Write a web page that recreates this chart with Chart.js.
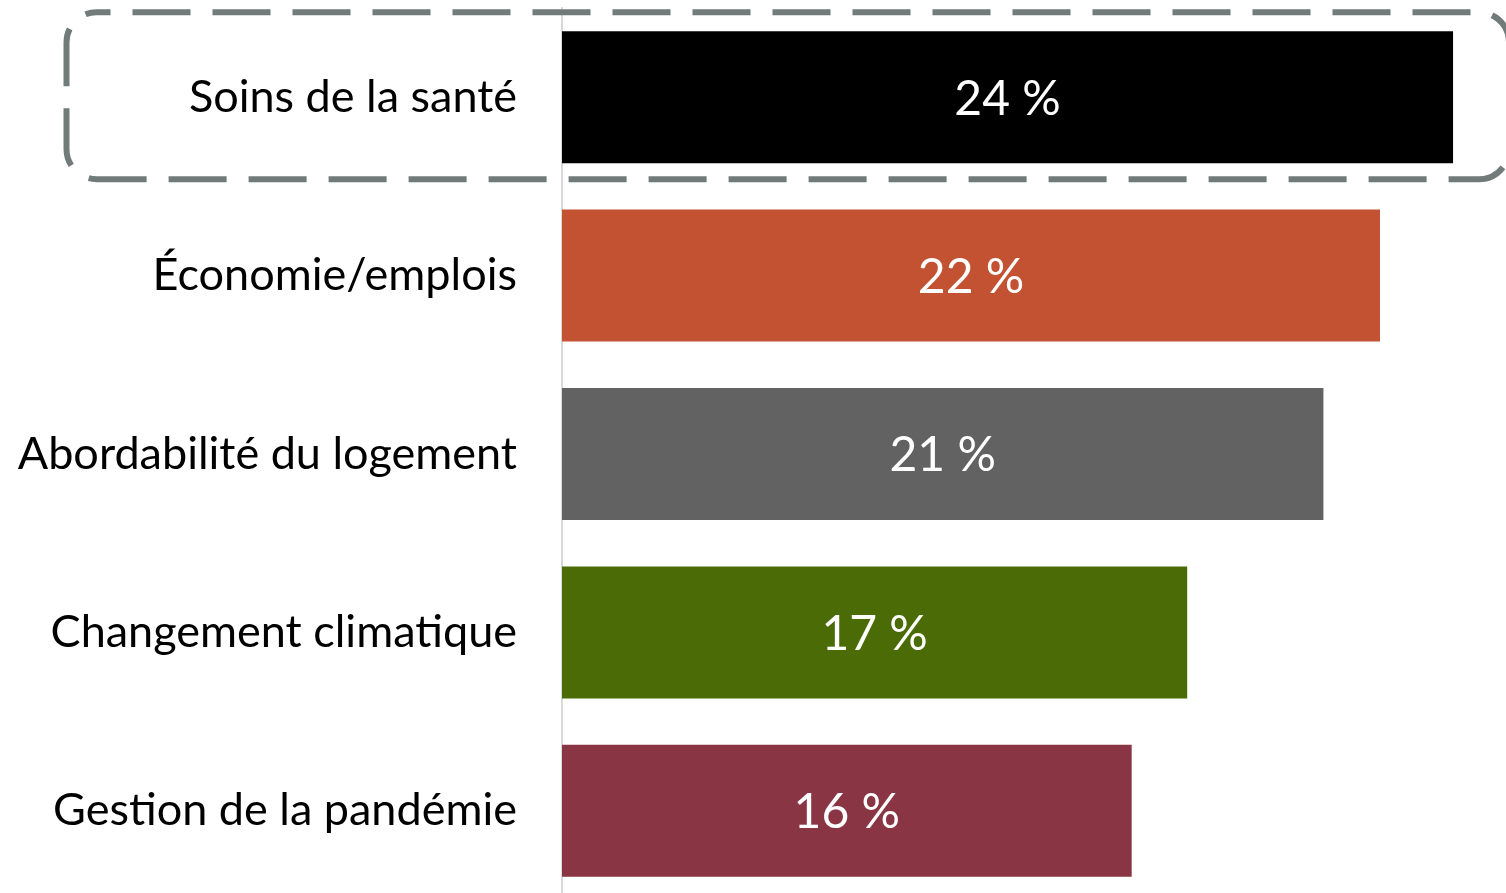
<!DOCTYPE html>
<html>
<head>
<meta charset="UTF-8">
<title>Priorités</title>
<script src="https://cdn.jsdelivr.net/npm/chart.js@4/dist/chart.umd.min.js"></script>
<style>
  body { margin: 0; overflow: hidden; background: #fff; }
</style>
</head>
<body>
<canvas id="chart" width="1506" height="900"></canvas>
<script>
var categories = ["Soins de la santé", "Économie/emplois", "Abordabilité du logement", "Changement climatique", "Gestion de la pandémie"];
var values = [24.4, 22.4, 20.85, 17.12, 15.6];
var barColors = ["#000000", "#C35233", "#626262", "#4A6B05", "#8A3543"];

// white "24 %" labels in the middle of each bar
var barLabels = {
  id: "barLabels",
  afterDatasetsDraw: function(chart) {
    var ctx = chart.ctx;
    var meta = chart.getDatasetMeta(0);
    ctx.save();
    ctx.fillStyle = "#fff";
    ctx.font = "48px Lato";
    ctx.textAlign = "center";
    ctx.textBaseline = "middle";
    meta.data.forEach(function(bar, i) {
      ctx.fillText(Math.round(values[i]) + " %", (bar.x + bar.base) / 2, bar.y + 2);
    });
    ctx.restore();
  }
};

// dashed rounded box around the first row
var highlightBox = {
  id: "highlightBox",
  afterDraw: function(chart) {
    var ctx = chart.ctx;
    var y0 = chart.scales.y.getPixelForValue(0);
    var top = y0 - 85, bottom = y0 + 82, left = 66.5, right = 1509, r = 30;
    ctx.save();
    ctx.strokeStyle = "#717B7A";
    ctx.lineWidth = 6;
    ctx.setLineDash([58, 22]);
    ctx.lineDashOffset = 44;
    ctx.beginPath();
    ctx.roundRect(left, top, right - left, bottom - top, r);
    ctx.stroke();
    ctx.restore();
  }
};

new Chart(document.getElementById("chart"), {
  type: "bar",
  data: {
    labels: categories,
    datasets: [{
      data: values,
      backgroundColor: barColors,
      categoryPercentage: 1,
      barPercentage: 0.74
    }]
  },
  options: {
    indexAxis: "y",
    responsive: false,
    animation: false,
    layout: { padding: { top: 8 } },
    plugins: { legend: { display: false }, tooltip: { enabled: false } },
    scales: {
      x: { display: false, min: 0, max: 25.85 },
      y: {
        afterFit: function(s) { s.width = 562; s.paddingTop = 0; s.paddingBottom = 0; },
        grid: { color: "rgba(0,0,0,0)", drawTicks: false },
        border: { color: "#D9D9D9", width: 2 },
        ticks: { color: "#000", font: { family: "Lato", size: 45 }, padding: 45 }
      }
    }
  },
  plugins: [barLabels, highlightBox]
});
</script>
</body>
</html>
